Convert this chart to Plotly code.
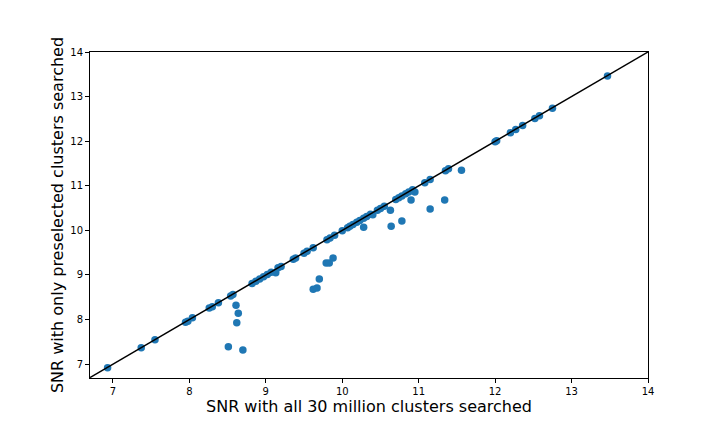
import plotly.graph_objects as go

# SNR with all clusters searched (x) vs SNR with only preselected clusters (y)
snr_all = [6.93, 7.37, 7.55, 7.95, 7.98, 8.04, 8.26, 8.30, 8.38, 8.54, 8.57,
           8.82, 8.87, 8.92, 8.97, 9.02, 9.07, 9.13, 9.16, 9.20, 9.36, 9.39,
           9.50, 9.54, 9.62, 9.80, 9.84, 9.90, 10.00, 10.07, 10.10, 10.14,
           10.19, 10.23, 10.28, 10.32, 10.37, 10.40, 10.46, 10.50, 10.55,
           10.70, 10.74, 10.78, 10.83, 10.87, 10.92, 10.95, 11.08, 11.15,
           11.35, 11.39, 12.00, 12.02, 12.20, 12.27, 12.36, 12.52, 12.58,
           12.75, 13.47,
           8.61, 8.64, 8.62, 8.51, 8.70,
           9.62, 9.67, 9.70, 9.79, 9.83, 9.88,
           10.28, 10.63, 10.64, 10.78, 10.90, 11.15, 11.34, 11.56]
snr_pre = [6.92, 7.37, 7.55, 7.94, 7.96, 8.04, 8.26, 8.29, 8.38, 8.53, 8.56,
           8.81, 8.86, 8.91, 8.96, 9.01, 9.06, 9.05, 9.16, 9.19, 9.35, 9.38,
           9.49, 9.53, 9.61, 9.79, 9.83, 9.89, 9.99, 10.06, 10.09, 10.13,
           10.18, 10.22, 10.27, 10.31, 10.36, 10.35, 10.45, 10.49, 10.54,
           10.69, 10.73, 10.77, 10.82, 10.86, 10.91, 10.86, 11.07, 11.14,
           11.34, 11.38, 11.99, 12.01, 12.19, 12.26, 12.35, 12.51, 12.57,
           12.74, 13.46,
           8.32, 8.14, 7.93, 7.39, 7.32,
           8.68, 8.71, 8.91, 9.27, 9.27, 9.38,
           10.07, 10.45, 10.09, 10.21, 10.68, 10.48, 10.68, 11.35]

line_x = [6.7, 14.0]
line_y = [6.7, 14.0]

x_ticks = [7, 8, 9, 10, 11, 12, 13, 14]
y_ticks = [7, 8, 9, 10, 11, 12, 13, 14]

fig = go.Figure()
fig.add_trace(go.Scatter(
    x=snr_all, y=snr_pre, mode="markers",
    marker=dict(color="#1f77b4", size=7.5, line=dict(width=0)),
    showlegend=False, cliponaxis=False))
fig.add_trace(go.Scatter(
    x=line_x, y=line_y, mode="lines",
    line=dict(color="black", width=1.5), showlegend=False))

axis_common = dict(
    showgrid=False, zeroline=False, showline=True, linecolor="black",
    linewidth=1, mirror=True, ticks="outside", ticklen=4, tickwidth=1,
    tickcolor="black", tickfont=dict(family="DejaVu Sans", size=10, color="black"))

fig.update_xaxes(range=[6.7, 14.0], tickvals=x_ticks,
                 title=dict(text="SNR with all 30 million clusters searched",
                            font=dict(family="DejaVu Sans", size=16, color="black"),
                            standoff=3),
                 **axis_common)
fig.update_yaxes(range=[6.69, 14.0], tickvals=y_ticks,
                 title=dict(text="SNR with only preselected clusters searched",
                            font=dict(family="DejaVu Sans", size=16, color="black"),
                            standoff=2),
                 **axis_common)

fig.update_layout(
    width=720, height=432,
    margin=dict(l=90, r=72, t=52, b=54),
    paper_bgcolor="white", plot_bgcolor="white",
    font=dict(family="DejaVu Sans"))

fig.write_html("out.html")
